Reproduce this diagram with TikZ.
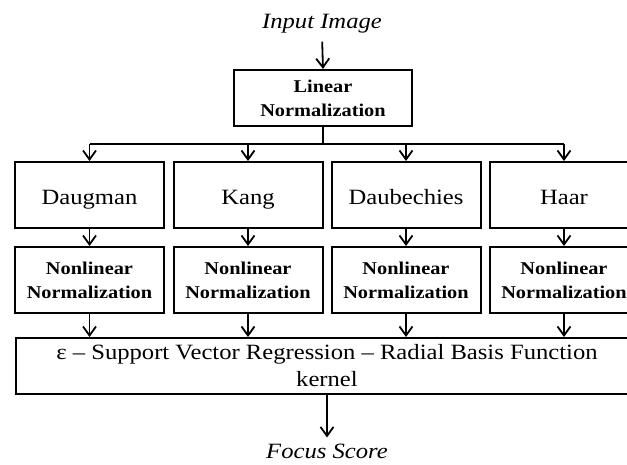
\documentclass[tikz,border=0pt]{standalone}
\usepackage{fontspec}
\setmainfont{Liberation Serif}[FakeStretch=1.13]
\usetikzlibrary{arrows.meta}
\begin{document}
\begin{tikzpicture}[x=1pt,y=-1pt,
  box/.style={draw=black,line width=2pt,inner sep=0pt,align=center},
  mbox/.style={box,minimum width=149pt,minimum height=66pt,text height=18.6pt,text depth=0pt,font=\fontsize{21.8}{26}\selectfont},
  nbox/.style={box,minimum width=149pt,minimum height=66pt,font=\fontsize{18}{24.3}\selectfont\bfseries},
  lbl/.style={font=\fontsize{21.8}{26}\selectfont\itshape,inner sep=2pt},
  arr/.style={line width=1.8pt,-{Straight Barb[length=9pt,width=13pt]}},
  ln/.style={line width=1.8pt}]
\clip (0,0) rectangle (627,464);
\fill[white] (0,0) rectangle (627,464);
\node[lbl] (in) at (322,24) {Input Image};
\node[box,minimum width=178pt,minimum height=56pt,font=\fontsize{18}{24.3}\selectfont\bfseries] (lin) at (323,98) {Linear\\Normalization};
\node[mbox] (m1) at (89.5,195) {Daugman};
\node[mbox] (m2) at (248,195) {Kang};
\node[mbox] (m3) at (406,195) {Daubechies};
\node[mbox] (m4) at (564,195) {Haar};
\node[nbox] (n1) at (89.5,280) {Nonlinear\\Normalization};
\node[nbox] (n2) at (248,280) {Nonlinear\\Normalization};
\node[nbox] (n3) at (406,280) {Nonlinear\\Normalization};
\node[nbox] (n4) at (564,280) {Nonlinear\\Normalization};
\node[box,minimum width=622pt,minimum height=56pt,font=\fontsize{21.8}{27}\selectfont] (svr) at (327,366) {ε – Support Vector Regression – Radial Basis Function\\kernel};
\node[lbl] (fs) at (327,451) {Focus Score};
\coordinate (bus) at (323,144);
\draw[arr,shorten <=6pt] (in.south) -- (lin.north);
\draw[ln] (lin.south) -- (bus);
\draw[ln] (m1.north |- bus) -- (m4.north |- bus);
\foreach \i in {1,2,3,4}{
  \draw[arr] (m\i.north |- bus) -- (m\i.north);
  \draw[arr] (m\i.south) -- (n\i.north);
  \draw[arr] (n\i.south) -- (n\i.south |- svr.north);
}
\draw[arr,shorten >=4pt] (svr.south) -- (fs.north);
\end{tikzpicture}
\end{document}
